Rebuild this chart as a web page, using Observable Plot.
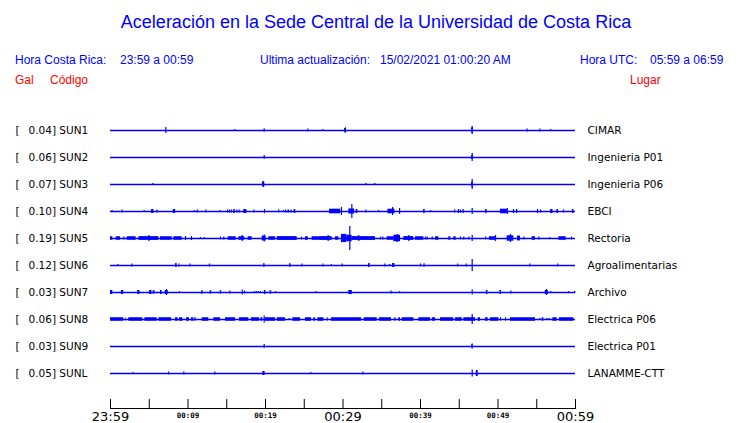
<!DOCTYPE html>
<html>
<head>
<meta charset="utf-8">
<script src="https://cdn.jsdelivr.net/npm/d3@7"></script>
<script src="https://cdn.jsdelivr.net/npm/@observablehq/plot@0.6"></script>
<style>
  body { margin: 0; background: white; }
  #wrap { width: 740px; background: white; }
  #header { position: relative; width: 740px; height: 95px; font-family: "Liberation Sans", Arial, sans-serif; }
  #header span { position: absolute; white-space: pre; line-height: 1; }
  .blue { color: #0000ff; }
  .red { color: #ff0000; }
  svg { display: block; }
</style>
</head>
<body>
<div id="wrap">
  <div id="header"></div>
  <div id="chart"></div>
</div>
<script>
// ---------- data ----------
const title = "Aceleración en la Sede Central de la Universidad de Costa Rica";
const headerLocal = ["Hora Costa Rica:", "23:59 a 00:59"];
const headerUpdate = ["Ultima actualización:", "15/02/2021 01:00:20 AM"];
const headerUTC = ["Hora UTC:", "05:59 a 06:59"];
const columnLeft = ["Gal", "Código"];
const columnRight = "Lugar";

const codes = ["SUN1","SUN2","SUN3","SUN4","SUN5","SUN6","SUN7","SUN8","SUN9","SUNL"];
const gal = ["0.04","0.06","0.07","0.10","0.19","0.12","0.03","0.06","0.03","0.05"];
const places = ["CIMAR","Ingenieria P01","Ingenieria P06","EBCI","Rectoria","Agroalimentarias","Archivo","Electrica P06","Electrica P01","LANAMME-CTT"];

// x axis: minutes after 23:59
const tickMinutes = [0,5,10,15,20,25,30,35,40,45,50,55,60];
const majorLabelMinutes = [0,30,60];
const majorLabels = ["23:59","00:29","00:59"];
const minorLabelMinutes = [10,20,40,50];
const minorLabels = ["00:09","00:19","00:39","00:49"];

// spikes: [minute, relative amplitude]; bursts: [start minute, end minute, relative amplitude]
const sun1Spikes = [[7.14,0.22],[16.04,0.07],[25.46,0.11],[27.4,0.07],[30.32,0.2],[46.67,0.3],[53.76,0.11],[55.4,0.11],[56.8,0.07]];
const sun1Bursts = [[19.8,20.0,0.11],[30.2,30.4,0.15],[46.6,46.8,0.2]];

const sun2Spikes = [[46.67,0.3]];
const sun2Bursts = [[19.8,20.0,0.12],[46.6,46.8,0.15]];

const sun3Spikes = [[5.46,0.07],[19.74,0.22],[32.95,0.07],[34.1,0.07],[46.67,0.37]];
const sun3Bursts = [[19.6,19.9,0.18],[46.6,46.8,0.18]];

const sun4Spikes = [[0.2,0.07],[1.5,0.11],[4.34,0.07],[6.0,0.11],[10.8,0.07],[11.2,0.11],[12.3,0.11],[14.1,0.07],[15.1,0.11],[15.35,0.11],[15.6,0.11],[16.3,0.11],[16.6,0.11],[18.5,0.11],[19.87,0.15],[21.7,0.11],[22.3,0.07],[22.6,0.11],[23.3,0.11],[29.8,0.3],[31.14,0.52],[32.95,0.11],[34.6,0.07],[36.4,0.3],[37.3,0.22],[41.3,0.07],[44.4,0.11],[44.9,0.15],[45.16,0.11],[45.5,0.15],[46.67,0.22],[51.2,0.22],[52.0,0.15],[52.4,0.15],[55.1,0.15],[55.5,0.11],[58.45,0.11]];
const sun4Bursts = [[5.3,5.6,0.15],[8.1,8.4,0.15],[15.9,16.1,0.15],[17.2,17.6,0.15],[22.9,23.1,0.11],[23.7,23.9,0.15],[28.26,29.7,0.17],[30.75,31.5,0.19],[31.7,31.9,0.15],[35.8,36.7,0.17],[40.4,40.6,0.15],[48.4,48.6,0.15],[50.3,51.2,0.17],[56.8,57.1,0.15],[57.6,57.8,0.15],[59.6,59.8,0.15]];

const sun5Spikes = [[1.72,0.11],[4.95,0.22],[9.68,0.15],[10.45,0.15],[11.61,0.07],[12.09,0.07],[14.19,0.11],[14.62,0.11],[16.99,0.22],[19.83,0.26],[24.65,0.11],[28.09,0.22],[30.88,0.89],[32.04,0.22],[34.84,0.11],[35.14,0.11],[36.99,0.3],[38.49,0.22],[40.65,0.11],[40.86,0.11],[41.51,0.11],[45.16,0.11],[45.59,0.11],[46.24,0.11],[46.67,0.22],[48.39,0.11],[49.68,0.22],[51.61,0.3],[53.33,0.11],[55.27,0.11],[56.69,0.07],[59.48,0.11]];
const sun5Bursts = [[0,0.3,0.13],[0.73,1.29,0.13],[2.15,3.31,0.13],[3.66,6.24,0.14],[6.45,7.96,0.13],[8.17,9.25,0.13],[15.18,16.22,0.13],[16.56,17.33,0.13],[17.76,18.28,0.13],[19.57,20.09,0.18],[20.43,21.29,0.13],[21.51,24.09,0.14],[25.16,25.51,0.13],[26.02,26.88,0.13],[26.88,28.6,0.14],[29.03,29.46,0.13],[29.8,30.5,0.3],[30.5,31.18,0.24],[31.18,34.19,0.14],[35.7,36.56,0.13],[36.56,37.42,0.24],[37.85,39.14,0.14],[39.35,40.43,0.13],[41.94,42.37,0.13],[43.66,43.9,0.13],[44.3,44.6,0.13],[48.9,49.68,0.13],[51.18,52.04,0.2],[52.52,52.9,0.18],[54.4,54.84,0.13],[57.85,58.8,0.13]];

const sun6Spikes = [[0.95,0.07],[2.75,0.11],[10.24,0.11],[12.77,0.11],[24.7,0.11],[27.4,0.11],[28.5,0.07],[29.9,0.11],[35.4,0.11],[36.0,0.07],[40.0,0.11],[44.8,0.11],[45.9,0.11],[46.67,0.44],[54.1,0.11],[57.7,0.11]];
const sun6Bursts = [[8.4,8.6,0.15],[8.85,8.95,0.13],[19.75,19.95,0.13],[23.1,23.3,0.13],[33.3,33.5,0.15],[36.4,36.7,0.15],[40.45,40.6,0.13]];

const sun7Spikes = [[7.22,0.22],[8.9,0.07],[15.4,0.11],[17.0,0.19],[17.3,0.11],[18.6,0.07],[18.85,0.07],[19.1,0.07],[19.35,0.07],[21.3,0.07],[26.5,0.07],[36.2,0.11],[37.3,0.07],[46.67,0.19],[51.65,0.11],[56.25,0.22],[56.8,0.07],[59.1,0.07],[59.9,0.07]];
const sun7Bursts = [[0,0.3,0.15],[1.4,1.7,0.15],[3.5,3.8,0.15],[5.05,5.35,0.15],[5.5,5.75,0.13],[6.45,6.65,0.15],[7.05,7.45,0.15],[11.75,11.95,0.13],[12.85,13.05,0.13],[14.15,14.35,0.13],[19.85,20.05,0.15],[20.6,20.8,0.13],[30.75,31.2,0.15],[48.5,48.7,0.15],[50.25,50.45,0.15],[56.1,56.5,0.15]];

const sun8Spikes = [[2.4,0.07],[19.83,0.26],[23.05,0.07],[27.1,0.07],[46.67,0.37],[55.4,0.07],[56.3,0.07],[56.6,0.07]];
const sun8Bursts = [[0,1.72,0.13],[1.94,2.02,0.13],[2.37,4.17,0.13],[4.43,6.02,0.13],[6.24,7.87,0.13],[8.39,8.73,0.13],[8.9,9.33,0.13],[9.81,10.19,0.13],[10.45,10.75,0.13],[10.88,11.05,0.13],[11.83,12.69,0.13],[13.33,14.19,0.13],[14.84,16.13,0.13],[16.65,17.85,0.13],[18.19,19.23,0.13],[19.4,19.66,0.13],[20.0,21.29,0.13],[21.51,22.58,0.13],[23.53,24.52,0.13],[25.16,25.94,0.13],[26.24,26.45,0.13],[26.75,27.53,0.13],[27.96,28.09,0.13],[28.52,32.39,0.13],[32.73,34.41,0.13],[34.71,36.26,0.13],[36.69,36.86,0.13],[37.2,37.42,0.13],[37.63,39.14,0.13],[39.78,41.29,0.13],[41.51,41.94,0.13],[42.58,44.3,0.13],[44.52,45.38,0.13],[45.59,47.1,0.13],[47.44,47.74,0.13],[48.39,48.73,0.13],[49.03,50.11,0.13],[50.32,50.45,0.13],[50.97,51.1,0.13],[51.61,54.84,0.13],[55.7,55.91,0.13],[57.08,57.63,0.13],[57.94,59.78,0.13]];

const sun9Spikes = [[46.67,0.19]];
const sun9Bursts = [[19.8,20.0,0.13],[46.6,46.75,0.13]];

const sunLSpikes = [[2.9,0.07],[7.5,0.11],[9.46,0.11],[13.46,0.11],[25.85,0.07],[32.56,0.11],[46.67,0.26]];
const sunLBursts = [[19.65,19.95,0.15],[47.2,47.45,0.22]];

// ---------- build tables ----------
const spikeSets = [sun1Spikes,sun2Spikes,sun3Spikes,sun4Spikes,sun5Spikes,sun6Spikes,sun7Spikes,sun8Spikes,sun9Spikes,sunLSpikes];
const burstSets = [sun1Bursts,sun2Bursts,sun3Bursts,sun4Bursts,sun5Bursts,sun6Bursts,sun7Bursts,sun8Bursts,sun9Bursts,sunLBursts];

const stations = codes.map((c, i) => ({i, code: c, gal: gal[i], place: places[i]}));
const spikes = spikeSets.flatMap((s, i) => s.map(([t, a]) => ({i, t, a})));
const bursts = burstSets.flatMap((s, i) => s.map(([t1, t2, a]) => ({i, t1, t2, a})));
const HALF = 0.5; // relative amplitude 1 = half of the row spacing

// ---------- header (HTML) ----------
const header = document.getElementById("header");
function addSpan(text, cls, left, top, size, center) {
  const s = document.createElement("span");
  s.textContent = text;
  s.className = cls;
  s.style.left = left + "px";
  s.style.top = top + "px";
  s.style.fontSize = size + "px";
  if (center) s.style.transform = "translateX(-50%)";
  header.appendChild(s);
}
addSpan(title, "blue", 376, 13, 18, true);
addSpan(headerLocal[0], "blue", 15, 54, 12);
addSpan(headerLocal[1], "blue", 120, 54, 12);
addSpan(headerUpdate[0], "blue", 260, 54, 12);
addSpan(headerUpdate[1], "blue", 380, 54, 12);
addSpan(headerUTC[0], "blue", 580, 54, 12);
addSpan(headerUTC[1], "blue", 650, 54, 12);
addSpan(columnLeft[0], "red", 15, 74, 12);
addSpan(columnLeft[1], "red", 50, 74, 12);
addSpan(columnRight, "red", 630, 74, 12);

// ---------- chart ----------
const blue = "#0000ff";
const chart = Plot.plot({
  width: 740,
  height: 328,
  marginTop: 20,
  marginBottom: 15,
  marginLeft: 110,
  marginRight: 165,
  x: {domain: [0, 60], range: [110, 575], axis: null},
  y: {domain: [0, 9], range: [35, 278], axis: null},
  style: {fontFamily: "DejaVu Sans", fontSize: "10.5px", background: "white", color: "black", overflow: "visible"},
  marks: [
    Plot.ruleY(stations, {y: "i", x1: 0, x2: 60, stroke: blue, strokeWidth: 1.3}),
    Plot.rect(bursts, {x1: "t1", x2: "t2", y1: d => d.i - d.a * HALF, y2: d => d.i + d.a * HALF, fill: blue}),
    Plot.ruleX(spikes, {x: "t", y1: d => d.i - d.a * HALF, y2: d => d.i + d.a * HALF, stroke: blue, strokeWidth: 1.2}),
    Plot.text(stations, {y: "i", text: () => "[", frameAnchor: "left", dx: -95, textAnchor: "start", fill: "black"}),
    Plot.text(stations, {y: "i", text: d => `${d.gal}] ${d.code}`, frameAnchor: "left", dx: -82, textAnchor: "start", fill: "black"}),
    Plot.text(stations, {y: "i", text: "place", frameAnchor: "right", dx: 12, textAnchor: "start", fill: "black"}),
    Plot.frame({anchor: "bottom", stroke: "black"}),
    Plot.tickX(tickMinutes, {x: d => d, stroke: "black", insetTop: 284}),
    Plot.text(majorLabelMinutes, {x: d => d, text: (d, k) => majorLabels[k], frameAnchor: "bottom", lineAnchor: "middle", dy: 8, fontSize: 13, fill: "black"}),
    Plot.text(minorLabelMinutes, {x: d => d, text: (d, k) => minorLabels[k], frameAnchor: "bottom", lineAnchor: "middle", dy: 7, fontSize: 7.5, fontFamily: "DejaVu Sans Mono", fontWeight: "bold", fill: "black"})
  ]
});
document.getElementById("chart").appendChild(chart);
</script>
</body>
</html>
